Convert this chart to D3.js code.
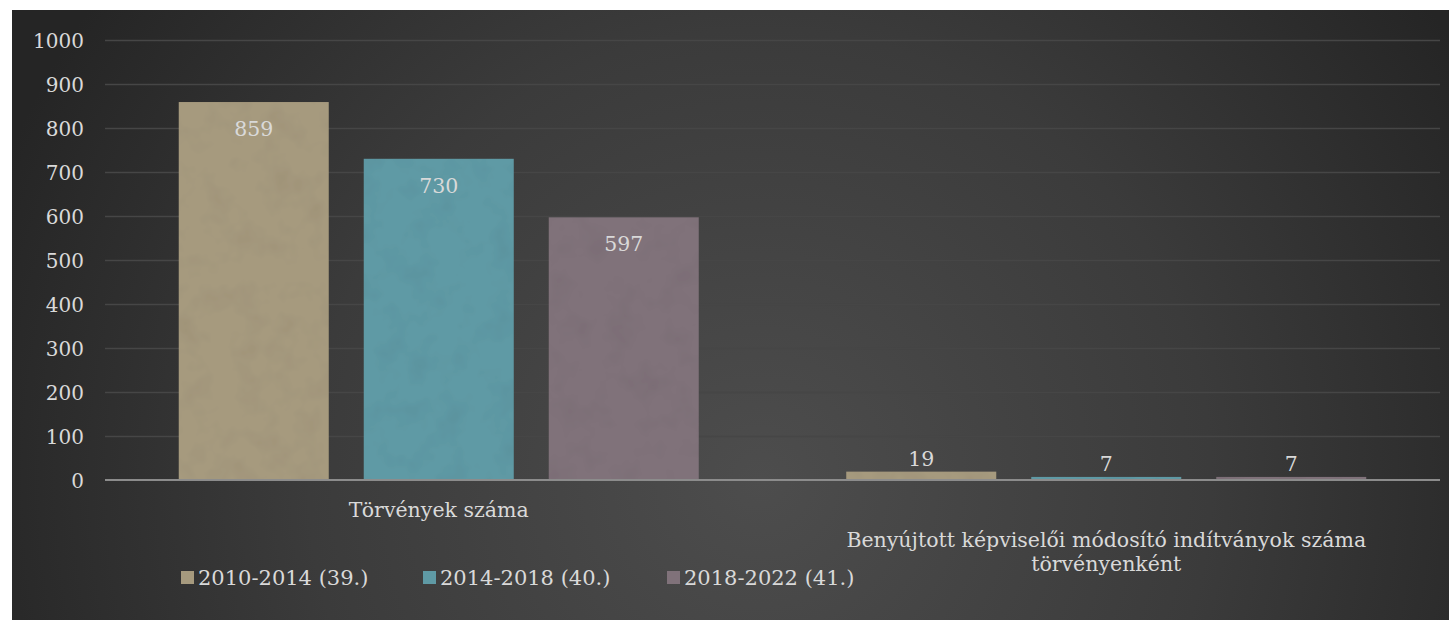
<!DOCTYPE html>
<html><head><meta charset="utf-8">
<script src="https://cdn.jsdelivr.net/npm/d3@7"></script>
<style>
html,body{margin:0;padding:0;background:#fff;}
svg{display:block;}
text{font-family:"DejaVu Serif","Liberation Serif",serif;}
</style></head><body>
<svg id="chart" width="1449" height="620"></svg>
<script>
const categories = ["Törvények száma", "Benyújtott képviselői módosító indítványok száma törvényenként"];
const seriesNames = ["2010-2014 (39.)", "2014-2018 (40.)", "2018-2022 (41.)"];
const seriesValues = [[859, 19], [730, 7], [597, 7]];
const yTicks = [0, 100, 200, 300, 400, 500, 600, 700, 800, 900, 1000];
const colors = ["#A69A7E", "#5F9AA5", "#80727A"];

(function(){
const svg = d3.select("#chart");
const defs = svg.append("defs");
const rg = defs.append("radialGradient").attr("id","bg").attr("gradientUnits","userSpaceOnUse")
  .attr("cx",760).attr("cy",480).attr("r",820);
rg.append("stop").attr("offset","0").attr("stop-color","#4d4d4d");
rg.append("stop").attr("offset","0.55").attr("stop-color","#3b3b3b");
rg.append("stop").attr("offset","1").attr("stop-color","#252525");

const f = defs.append("filter").attr("id","tex").attr("x","0").attr("y","0").attr("width","1").attr("height","1");
f.append("feTurbulence").attr("type","fractalNoise").attr("baseFrequency","0.035").attr("numOctaves","3").attr("seed","4").attr("result","n");
f.append("feColorMatrix").attr("in","n").attr("type","matrix")
  .attr("values","0 0 0 0 0  0 0 0 0 0  0 0 0 0 0  0 0 0 -0.9 0.5").attr("result","m");
f.append("feComposite").attr("in","m").attr("in2","SourceGraphic").attr("operator","in").attr("result","mm");
f.append("feComponentTransfer").attr("in","mm").attr("result","mt")
  .append("feFuncA").attr("type","linear").attr("slope","0.2");
const fm = f.append("feMerge");
fm.append("feMergeNode").attr("in","SourceGraphic");
fm.append("feMergeNode").attr("in","mt");

svg.append("rect").attr("x",12).attr("y",10).attr("width",1437).attr("height",610).attr("fill","url(#bg)");

const mL = 105, mR = 1440, mT = 40, mB = 480;
const y = d3.scaleLinear().domain([0,1000]).range([mB, mT]);
const x0 = d3.scaleBand().domain(categories).range([mL,mR]).paddingInner(0).paddingOuter(0);
const groupW = 520;
const x1 = d3.scaleBand().domain(seriesNames).range([0, groupW]).paddingInner(35/185).paddingOuter(0);
const groupOff = (x0.bandwidth()-groupW)/2;

// grid
const gy = svg.append("g").attr("transform",`translate(${mL},0)`)
  .call(d3.axisLeft(y).tickValues(yTicks).tickSize(-(mR-mL)).tickFormat(""));
gy.select(".domain").remove();
gy.selectAll(".tick line").attr("stroke","#464646").attr("stroke-width",1.6);
gy.selectAll(".tick").filter(d=>d===0).remove();

// y labels
const yl = svg.append("g").attr("transform",`translate(84,0)`)
  .call(d3.axisLeft(y).tickValues(yTicks).tickSize(0).tickPadding(0).tickFormat(d3.format("d")));
yl.select(".domain").remove();
yl.selectAll("text").attr("fill","#d9d9d9").attr("font-size","20px")
  .style("font-family","'DejaVu Serif',serif").attr("dy","0.35em");

// bars
const groups = svg.append("g").selectAll("g").data(categories).join("g")
  .attr("transform",c=>`translate(${x0(c)+groupOff},0)`);
groups.each(function(c,ci){
  const g = d3.select(this);
  seriesNames.forEach((s,si)=>{
    const v = seriesValues[si][ci];
    g.append("rect").attr("x",x1(s)).attr("width",x1.bandwidth())
      .attr("y",y(v)).attr("height",y(0)-y(v)).attr("fill",colors[si]).attr("filter","url(#tex)");
    const inside = (y(0)-y(v))>40;
    g.append("text").attr("x",x1(s)+x1.bandwidth()/2)
      .attr("y", inside ? y(v)+27 : y(v)-13).attr("dy","0.35em")
      .attr("text-anchor","middle").attr("fill","#d9d9d9").attr("font-size","20.5px").text(v);
  });
});

// x axis line
svg.append("line").attr("x1",mL).attr("x2",mR).attr("y1",y(0)).attr("y2",y(0))
  .attr("stroke","#8c8c8c").attr("stroke-width",2);

// category labels
const xa = svg.append("g").attr("transform",`translate(0,${mB})`)
  .call(d3.axisBottom(x0).tickSize(0).tickPadding(0).tickFormat(""));
xa.select(".domain").remove();
const catLines = [["Törvények száma"],["Benyújtott képviselői módosító indítványok száma","törvényenként"]];
const catBase = [37, 67];
xa.selectAll(".tick").each(function(c,i){
  const t = d3.select(this).append("text").attr("text-anchor","middle").attr("fill","#d9d9d9")
    .attr("font-size","20.5px").attr("y",catBase[i]);
  catLines[i].forEach((ln,k)=>t.append("tspan").attr("x",0).attr("dy",k===0?"0":"24").text(ln));
});

// legend
const legX = [181, 423, 667];
const leg = svg.append("g");
seriesNames.forEach((s,i)=>{
  leg.append("rect").attr("x",legX[i]).attr("y",571).attr("width",13).attr("height",13).attr("fill",colors[i]);
  leg.append("text").attr("x",legX[i]+17).attr("y",578).attr("dy","0.35em").attr("fill","#d9d9d9")
    .attr("font-size","21px").text(s);
});
})();
</script>
</body></html>
